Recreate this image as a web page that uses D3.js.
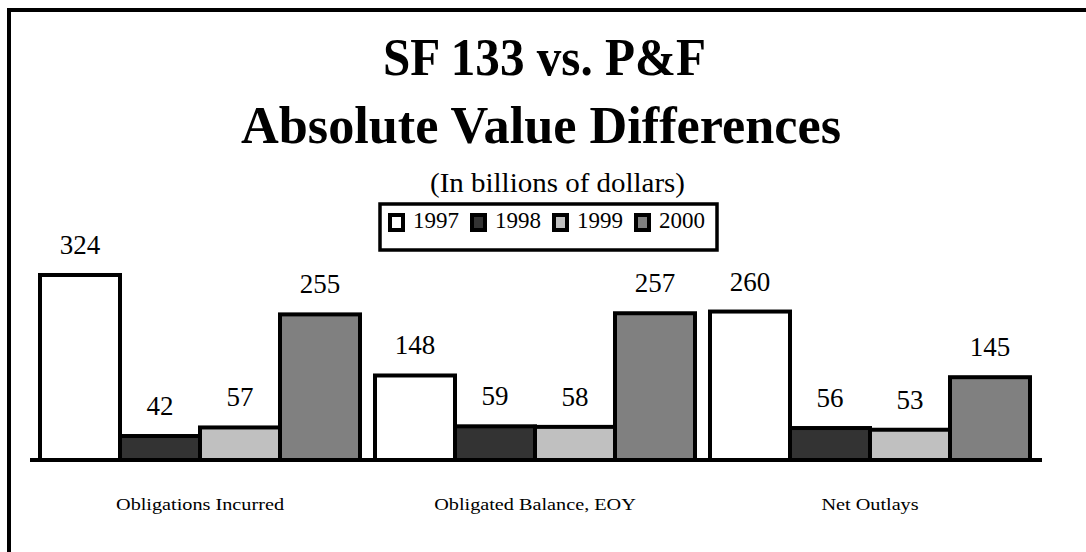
<!DOCTYPE html>
<html>
<head>
<meta charset="utf-8">
<script src="https://cdn.jsdelivr.net/npm/d3@7"></script>
<style>
  html, body { margin: 0; padding: 0; background: #fff; }
  svg { display: block; }
  text { font-family: "Liberation Serif", "Times New Roman", serif; fill: #000; }
</style>
</head>
<body>
<svg id="chart" width="1086" height="552"></svg>
<script>
const categories = ["Obligations Incurred", "Obligated Balance, EOY", "Net Outlays"];
const years = ["1997", "1998", "1999", "2000"];
const values1997 = [324, 148, 260];
const values1998 = [42, 59, 56];
const values1999 = [57, 58, 53];
const values2000 = [255, 257, 145];
const seriesValues = [values1997, values1998, values1999, values2000];
const colors = ["#ffffff", "#333333", "#c0c0c0", "#808080"];

const svg = d3.select("#chart");

// outer frame (right/bottom edges run off the canvas)
svg.append("rect").attr("x", 9).attr("y", 10).attr("width", 1200).attr("height", 1000)
  .attr("fill", "none").attr("stroke", "#000").attr("stroke-width", 4);

// titles
svg.append("text").attr("x", 544.5).attr("y", 75).attr("text-anchor", "middle")
  .attr("textLength", 323).attr("lengthAdjust", "spacingAndGlyphs")
  .style("font-size", "53px").style("font-weight", "bold").text("SF 133 vs. P&F");
svg.append("text").attr("x", 541).attr("y", 143).attr("text-anchor", "middle")
  .attr("textLength", 600).attr("lengthAdjust", "spacingAndGlyphs")
  .style("font-size", "53px").style("font-weight", "bold").text("Absolute Value Differences");
svg.append("text").attr("x", 557.5).attr("y", 192).attr("text-anchor", "middle")
  .attr("textLength", 255).attr("lengthAdjust", "spacingAndGlyphs")
  .style("font-size", "27px").text("(In billions of dollars)");

// legend
const legend = svg.append("g");
legend.append("rect").attr("x", 380).attr("y", 204).attr("width", 337).attr("height", 46)
  .attr("fill", "#fff").attr("stroke", "#000").attr("stroke-width", 3.5);
const legX = d3.scaleBand().domain(years).range([388, 716]);
years.forEach((yr, i) => {
  const g = legend.append("g").attr("transform", `translate(${legX(yr)},0)`);
  g.append("rect").attr("x", 2).attr("y", 215).attr("width", 13).attr("height", 15)
    .attr("fill", colors[i]).attr("stroke", "#000").attr("stroke-width", 4);
  g.append("text").attr("x", 25).attr("y", 228).style("font-size", "23px").text(yr);
});

// scales
const x0 = d3.scaleBand().domain(categories).range([32.5, 1037.5])
  .paddingInner(15 / 335).paddingOuter(7.5 / 335);
const x1 = d3.scaleBand().domain(years).range([0, x0.bandwidth()]);
const y = d3.scaleLinear().domain([0, 400]).range([460, 231.6]);

const data = categories.map((c, ci) => ({
  cat: c,
  bars: years.map((yr, yi) => ({ yr, yi, v: seriesValues[yi][ci] }))
}));

const groups = svg.append("g").selectAll("g").data(data).join("g")
  .attr("transform", d => `translate(${x0(d.cat)},0)`);

groups.selectAll("rect").data(d => d.bars).join("rect")
  .attr("x", d => x1(d.yr))
  .attr("width", x1.bandwidth())
  .attr("y", d => y(d.v))
  .attr("height", d => y(0) - y(d.v))
  .attr("fill", d => colors[d.yi])
  .attr("stroke", "#000").attr("stroke-width", 4);

groups.selectAll("text.val").data(d => d.bars).join("text")
  .attr("class", "val")
  .attr("x", d => x1(d.yr) + x1.bandwidth() / 2)
  .attr("y", d => y(d.v) - 21)
  .attr("text-anchor", "middle")
  .style("font-size", "27px")
  .text(d => d.v);

// baseline axis
const xAxis = d3.axisBottom(x0).tickSize(0).tickPadding(38);
const axisG = svg.append("g").attr("transform", `translate(0,${y(0)})`).call(xAxis);
axisG.select(".domain").attr("d", "M30,0H1042").attr("stroke", "#000").attr("stroke-width", 4);
axisG.selectAll(".tick text")
  .style("font-size", "17px")
  .style("font-family", "'Liberation Serif', 'Times New Roman', serif")
  .attr("fill", "#000")
  .each(function () {
    const w = this.getComputedTextLength();
    d3.select(this).attr("textLength", w * 1.19).attr("lengthAdjust", "spacingAndGlyphs");
  });
</script>
</body>
</html>
